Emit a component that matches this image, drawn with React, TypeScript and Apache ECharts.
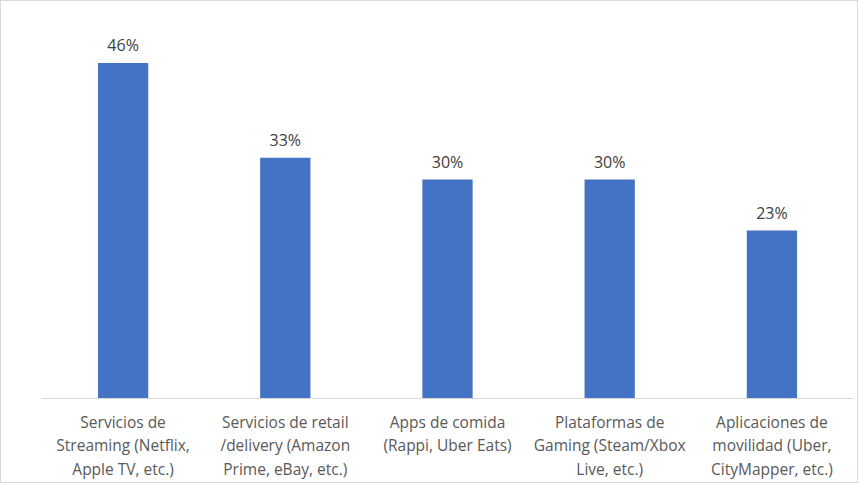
import React, { useEffect, useRef } from "react";
import * as echarts from "echarts";

const categories = [
  "Servicios de\nStreaming (Netflix,\nApple TV, etc.)",
  "Servicios de retail\n/delivery (Amazon\nPrime, eBay, etc.)",
  "Apps de comida\n(Rappi, Uber Eats)",
  "Plataformas de\nGaming (Steam/Xbox\nLive, etc.)",
  "Aplicaciones de\nmovilidad (Uber,\nCityMapper, etc.)",
];
const values = [46, 33, 30, 30, 23];

export default function App() {
  const ref = useRef<HTMLDivElement>(null);
  useEffect(() => {
    if (!ref.current) return;
    const chart = echarts.init(ref.current, null, { renderer: "svg" });
    const font = "'Open Sans', sans-serif";
    chart.setOption({
      animation: false,
      backgroundColor: "#ffffff",
      grid: { left: 41, right: 4, top: 33, bottom: 84, containLabel: false },
      xAxis: {
        type: "category",
        data: categories,
        axisLine: { lineStyle: { color: "#d9d9d9", width: 1 } },
        axisTick: { show: false },
        axisLabel: {
          interval: 0,
          color: "#595959",
          fontFamily: font,
          fontSize: 15.5,
          lineHeight: 23.5,
          margin: 12,
        },
      },
      yAxis: {
        type: "value",
        min: 0,
        max: 50,
        show: false,
        splitLine: { show: false },
      },
      series: [
        {
          type: "bar",
          data: values,
          barWidth: "31%",
          itemStyle: { color: "#4472C4" },
          label: {
            show: true,
            position: "top",
            distance: 10,
            formatter: "{c}%",
            color: "#404040",
            fontFamily: font,
            fontSize: 16,
          },
        },
      ],
    });
    return () => chart.dispose();
  }, []);
  return (
    <div
      style={{
        position: "fixed",
        left: 0,
        top: 0,
        width: 858,
        height: 483,
        boxSizing: "border-box",
        border: "1px solid #d9d9d9",
        background: "#fff",
      }}
    >
      <div ref={ref} style={{ width: 856, height: 481 }} />
    </div>
  );
}
